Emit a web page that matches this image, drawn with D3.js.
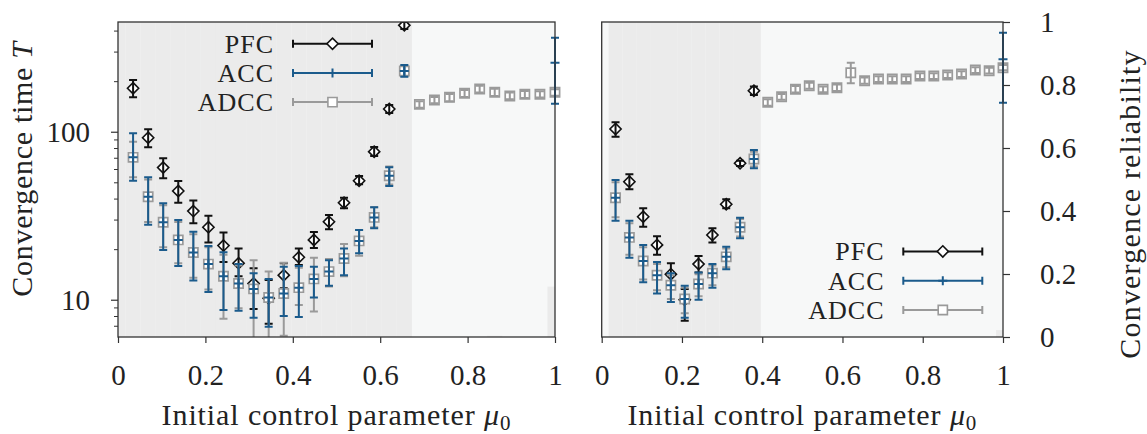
<!DOCTYPE html>
<html><head><meta charset="utf-8">
<script src="https://cdn.jsdelivr.net/npm/d3@7"></script>
<style>
body{margin:0;background:#fff}
</style>
</head><body>
<svg id="c" width="1147" height="434"></svg>
<script>
// ---- data ----
const mu0 = [0, 0.0345, 0.0690, 0.1034, 0.1379, 0.1724, 0.2069, 0.2414, 0.2759, 0.3103, 0.3448,
  0.3793, 0.4138, 0.4483, 0.4828, 0.5172, 0.5517, 0.5862, 0.6207, 0.6552, 0.6897,
  0.7241, 0.7586, 0.7931, 0.8276, 0.8621, 0.8966, 0.9310, 0.9655, 1.0];
const N = null;
// reliability (background bars)
const relLeft  = [1,1,1,1,1,1,1,1,1,1,1,1,1,1,1,1,1,1,1,1, 0,0,0,0,0,0.004,0,0,0,0.16];
const relRight = [0,1,1,1,1,1,1,1,1,1,1,1, 0,0,0,0,0,0,0,0,0,0,0,0,0,0,0,0,0,0.022];
// left panel
const pfcL   = [N,181.4,92.1,61.2,44.4,33.7,27.0,21.0,16.5,12.5,10.2,14.0,17.9,22.7,29.1,37.8,51.1,76.1,136.6,430,N,N,N,N,N,N,N,N,N,N];
const pfcLlo = [N,160.3,80.8,52.8,37.8,28.5,21.9,16.8,13.8,8.8,7.2,11.7,16.1,20.3,26.3,35.0,48.7,71.7,129.3,409,N,N,N,N,N,N,N,N,N,N];
const pfcLhi = [N,203.2,103.4,69.5,50.9,38.9,31.6,25.1,20.2,15.4,13.1,16.5,20.2,25.3,31.9,40.5,54.5,81.2,144.3,450,N,N,N,N,N,N,N,N,N,N];
const accL   = [N,70.4,41.0,28.9,22.7,19.1,16.3,13.8,12.5,11.6,10.3,10.9,11.8,13.3,14.7,17.6,22.4,30.9,54.7,229.8,N,N,N,N,N,N,N,N,N,257.5];
const accLlo = [N,51.1,27.9,19.8,15.9,13.0,11.1,8.7,8.6,7.8,6.9,8.0,7.9,10.3,12.1,14.0,18.9,26.6,47.5,212.6,N,N,N,N,N,N,N,N,N,146.9];
const accLhi = [N,97.9,53.6,37.5,29.8,25.4,20.9,19.2,16.3,14.4,13.3,15.7,15.9,15.7,17.2,20.2,26.0,35.5,61.4,249.6,N,N,N,N,N,N,N,N,N,362.7];
const adccL   = [N,70.4,41.0,28.9,22.7,19.1,16.3,13.8,12.5,11.6,10.3,10.9,11.8,13.3,14.7,17.6,22.4,30.9,54.7,229.8,145.6,154.5,160.3,169.3,179.6,171.7,163.2,167.0,167.0,171.7];
const adccLlo = [N,53.6,29.0,20.5,16.5,13.5,11.5,7.7,8.9,5.5,5.5,6.1,9.3,8.5,12.0,13.8,18.3,27.0,48.5,214,139,148,152,161,171,163,156,159,160,164];
const adccLhi = [N,87.2,52.0,36.5,29.0,24.5,20.5,18.5,16.0,17.2,14.7,16.6,15.5,17.8,17.5,21.5,26.0,35.5,62.0,247,152,161,168,177,188,180,171,175,174,179];
// right panel
const pfcR   = [N,103.8,50.4,31.2,21.2,14.2,10.0,16.3,24.3,37.0,64.9,175.5,N,N,N,N,N,N,N,N,N,N,N,N,N,N,N,N,N,N];
const pfcRlo = [N,93.4,45.4,27.2,18.5,12.2,7.5,14.5,21.9,35.0,62.5,165.4,N,N,N,N,N,N,N,N,N,N,N,N,N,N,N,N,N,N];
const pfcRhi = [N,113.8,55.8,35.0,23.9,16.5,11.6,18.2,26.6,39.6,67.2,185.9,N,N,N,N,N,N,N,N,N,N,N,N,N,N,N,N,N,N];
const accR   = [N,40.5,23.5,17.0,14.0,12.2,10.1,12.4,14.4,18.0,27.0,68.8,N,N,N,N,N,N,N,N,N,N,N,N,N,N,N,N,N,269.8];
const accRlo = [N,29.5,17.8,12.7,10.9,9.7,7.8,10.0,11.8,15.2,23.2,60.6,N,N,N,N,N,N,N,N,N,N,N,N,N,N,N,N,N,148.9];
const accRhi = [N,51.6,29.5,21.2,16.8,14.4,12.1,14.5,16.3,20.7,30.8,77.8,N,N,N,N,N,N,N,N,N,N,N,N,N,N,N,N,N,388.6];
const adccR   = [N,40.5,23.5,17.0,14.0,12.2,10.1,12.4,14.4,18.0,27.0,68.8,149.7,161.6,178.9,187.9,178.9,182.9,224.5,201.3,206.0,206.0,206.0,214.7,214.7,217.6,220.6,233.0,230.8,240.5];
const adccRlo = [N,31.0,18.5,13.2,11.4,10.1,8.3,10.5,12.2,15.6,23.8,62.0,143,155,171,180,172,175,194.2,193,198,198,198,206,206,209,212,224,222,232];
const adccRhi = [N,50.0,28.5,20.5,16.3,14.0,11.8,14.2,16.0,20.2,30.2,76.0,156,168,187,196,186,191,257.5,210,214,214,214,223,223,226,229,242,240,250];
// ticks
const xTicks = [0, 0.2, 0.4, 0.6, 0.8, 1];
const xTickLabels = ["0", "0.2", "0.4", "0.6", "0.8", "1"];
const yMajor = [10, 100];
const yMajorLabels = ["10", "100"];
const yMinor = [7, 8, 9, 20, 30, 40, 50, 60, 70, 80, 90, 200, 300, 400];
const rTicks = [0, 0.2, 0.4, 0.6, 0.8, 1];
const rTickLabels = ["0", "0.2", "0.4", "0.6", "0.8", "1"];
const seriesNames = ["PFC", "ACC", "ADCC"];

// ---- style ----
const FONT = "'Liberation Serif', 'DejaVu Serif', serif";
const C = {pfc:"#111111", acc:"#1b5b8c", adcc:"#9a9a9a", bar:"#ebebeb", bg:"#f7f8f8", spine:"#333333", text:"#222222"};
const FS = 29;
const LFS = 26;
const yTop = 22, yBot = 337;
const svg = d3.select("#c");
const defs = svg.append("defs");

const panels = [
  {id:"L", x0:118, x1:555, rel:relLeft,
   pfc:[pfcL,pfcLlo,pfcLhi], acc:[accL,accLlo,accLhi], adcc:[adccL,adccLlo,adccLhi],
   showY:true, showR:false, leg:{tx:274, lx0:293, lx1:372, y0:43.7, dy:29.2}},
  {id:"R", x0:601.7, x1:1003, rel:relRight,
   pfc:[pfcR,pfcRlo,pfcRhi], acc:[accR,accRlo,accRhi], adcc:[adccR,adccRlo,adccRhi],
   showY:false, showR:true, leg:{tx:884.5, lx0:903.3, lx1:982.3, y0:251.4, dy:29.3}}
];

const diamond = r => `M0,${-r}L${r},0L0,${r}L${-r},0Z`;
const square = r => `M${-r},${-r}H${r}V${r}H${-r}Z`;
const plus = r => `M${-r},0H${r}M0,${-r}V${r}`;

function styleText(sel, size){
  sel.attr("font-family",FONT).attr("font-size",size).attr("fill",C.text);
}

panels.forEach(p => {
  const x = d3.scaleLinear([0,1],[p.x0,p.x1]);
  const y = d3.scaleLog([6,450],[yBot,yTop]);
  const r = d3.scaleLinear([0,1],[yBot,yTop]);
  const g = svg.append("g");

  defs.append("clipPath").attr("id","clip"+p.id).append("rect")
    .attr("x",p.x0).attr("y",yTop).attr("width",p.x1-p.x0).attr("height",yBot-yTop);
  defs.append("clipPath").attr("id","clipS"+p.id).append("rect")
    .attr("x",p.x0-12).attr("y",yTop).attr("width",p.x1-p.x0+24).attr("height",yBot-yTop);

  g.append("rect").attr("x",p.x0).attr("y",yTop).attr("width",p.x1-p.x0).attr("height",yBot-yTop).attr("fill",C.bg);

  const step = mu0[1]-mu0[0];
  g.append("g").attr("clip-path",`url(#clip${p.id})`).selectAll("rect")
    .data(mu0.map((m,i)=>({m, v:p.rel[i]})).filter(d=>d.v>0))
    .join("rect")
    .attr("x",d=>x(d.m-step/2)).attr("width",d=>x(d.m+step/2)-x(d.m-step/2))
    .attr("y",d=>r(d.v)).attr("height",d=>r(0)-r(d.v)).attr("fill",C.bar);

  const sg = g.append("g").attr("clip-path",`url(#clipS${p.id})`);
  function series(arr, color, shape, sw, fill){
    const data = mu0.map((m,i)=>({m, v:arr[0][i], lo:arr[1][i], hi:arr[2][i]})).filter(d=>d.v!=null);
    const gg = sg.append("g");
    gg.selectAll("path.mk").data(data).join("path").attr("class","mk")
      .attr("transform",d=>`translate(${x(d.m)},${y(d.v)})`)
      .attr("d",shape).attr("fill",fill).attr("stroke",color).attr("stroke-width",sw);
    gg.selectAll("path.eb").data(data).join("path").attr("class","eb")
      .attr("d",d=>{const cx=x(d.m), a=y(d.hi), b=y(d.lo);
        return `M${cx},${a}V${b}M${cx-4},${a}H${cx+4}M${cx-4},${b}H${cx+4}`;})
      .attr("fill","none").attr("stroke",color).attr("stroke-width",2);
  }
  series(p.pfc, C.pfc, diamond(5.6), 1.6, "#fff");
  series(p.adcc, C.adcc, square(4.6), 1.7, "#fff");
  series(p.acc, C.acc, plus(4.5), 2, "none");

  // spines
  g.append("rect").attr("x",p.x0).attr("y",yTop).attr("width",p.x1-p.x0).attr("height",yBot-yTop)
    .attr("fill","none").attr("stroke",C.spine).attr("stroke-width",1.3);

  // x axis
  const xa = g.append("g").attr("transform",`translate(0,${yBot})`)
    .call(d3.axisBottom(x).tickValues(xTicks).tickFormat((d,i)=>xTickLabels[i]).tickSize(6).tickPadding(21));
  xa.select(".domain").remove();
  xa.selectAll("line").attr("stroke",C.spine).attr("stroke-width",1.2);
  styleText(xa.selectAll("text"), FS);

  if (p.showY){
    const ya = g.append("g").attr("transform",`translate(${p.x0},0)`)
      .call(d3.axisLeft(y).tickValues(yMajor).tickFormat((d,i)=>yMajorLabels[i]).tickSize(7).tickPadding(21));
    ya.select(".domain").remove();
    ya.selectAll("line").attr("stroke",C.spine).attr("stroke-width",1.2);
    styleText(ya.selectAll("text"), FS);
    const ym = g.append("g").attr("transform",`translate(${p.x0},0)`)
      .call(d3.axisLeft(y).tickValues(yMinor).tickFormat("").tickSize(4));
    ym.select(".domain").remove();
    ym.selectAll("line").attr("stroke",C.spine).attr("stroke-width",1);
  }
  if (p.showR){
    const ra = g.append("g").attr("transform",`translate(${p.x1},0)`)
      .call(d3.axisRight(r).tickValues(rTicks).tickFormat((d,i)=>rTickLabels[i]).tickSize(7).tickPadding(30));
    ra.select(".domain").remove();
    ra.selectAll("line").attr("stroke",C.spine).attr("stroke-width",1.2);
    styleText(ra.selectAll("text"), FS);
  }

  // x title
  const xt = g.append("text").attr("x",(p.x0+p.x1)/2).attr("y",425).attr("text-anchor","middle")
    .attr("letter-spacing",0.9);
  styleText(xt, 30);
  xt.append("tspan").text("Initial control parameter ");
  xt.append("tspan").attr("font-style","italic").text("μ");
  xt.append("tspan").attr("font-size",21).attr("dy",5).text("0");

  // legend
  const L = p.leg;
  const cols = [C.pfc, C.acc, C.adcc];
  const shapes = [diamond(5.6), plus(4.5), square(4.6)];
  seriesNames.forEach((name,i)=>{
    const ly = L.y0 + i*L.dy;
    styleText(g.append("text").attr("x",L.tx).attr("y",ly+9).attr("text-anchor","end")
      .attr("letter-spacing",1).text(name), LFS);
    g.append("path").attr("d",`M${L.lx0},${ly}H${L.lx1}M${L.lx0},${ly-4}V${ly+4}M${L.lx1},${ly-4}V${ly+4}`)
      .attr("stroke",cols[i]).attr("stroke-width",2).attr("fill","none");
    g.append("path").attr("transform",`translate(${(L.lx0+L.lx1)/2},${ly})`).attr("d",shapes[i])
      .attr("fill",i===1?"none":"#fff").attr("stroke",cols[i]).attr("stroke-width",i===1?2:1.6);
  });
});

// y titles
const yt = svg.append("text").attr("transform","translate(32,169) rotate(-90)").attr("text-anchor","middle")
  .attr("letter-spacing",0.7);
styleText(yt, 30);
yt.append("tspan").text("Convergence time ");
yt.append("tspan").attr("font-style","italic").text("T");
styleText(svg.append("text").attr("transform","translate(1140,204) rotate(-90)").attr("text-anchor","middle")
  .attr("letter-spacing",1.2).text("Convergence reliability"), 30);
</script>
</body></html>
